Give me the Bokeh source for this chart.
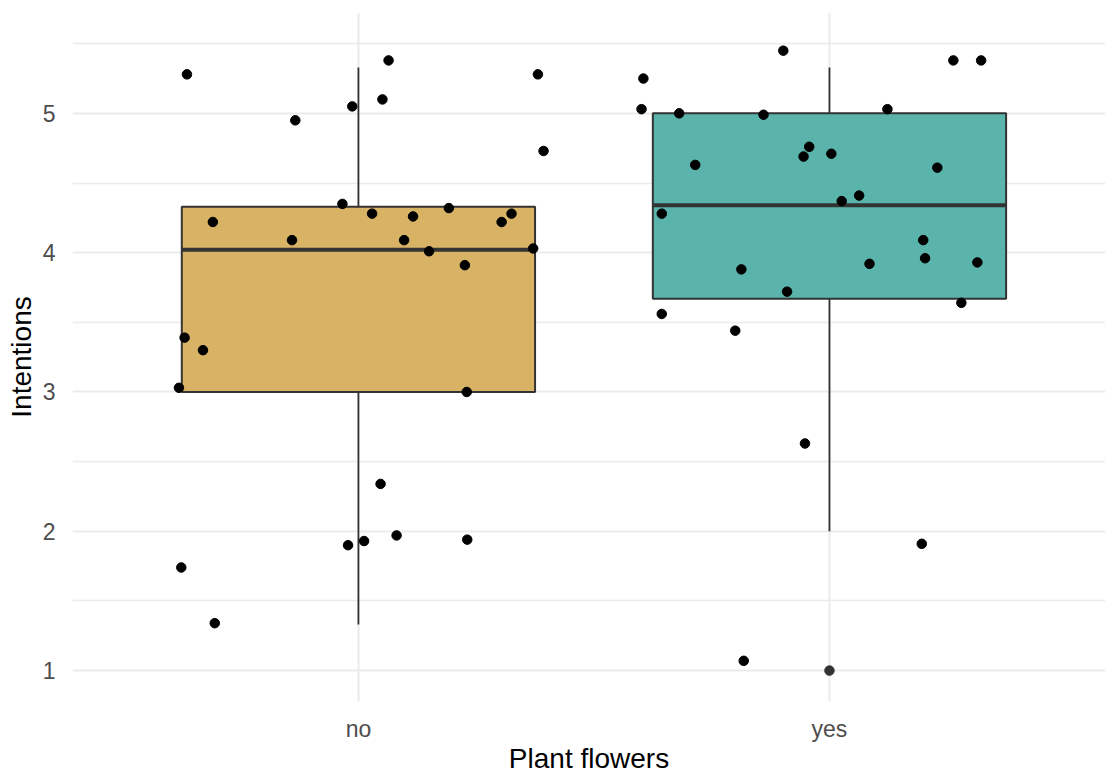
from bokeh.plotting import figure
from bokeh.models import FixedTicker, Range1d, ColumnDataSource
from bokeh.embed import file_html
from bokeh.resources import INLINE

# ---------------- data ----------------
categories = ["no", "yes"]
box_colors = ["#D8B365", "#5AB4AC"]

# boxplot statistics
box_lower = [1.33, 2.0]
box_q1 = [3.0, 3.67]
box_median = [4.02, 4.34]
box_q3 = [4.33, 5.0]
box_upper = [5.33, 5.33]

outlier_cat = ["yes"]
outlier_values = [1.0]

# jittered observations: value and horizontal jitter (category units)
no_values = [5.28, 5.38, 5.28, 5.10, 5.05, 4.95, 4.73, 4.35, 4.28, 4.26,
             4.32, 4.22, 4.28, 4.22, 4.09, 4.09, 4.01, 4.03, 3.91, 3.39,
             3.30, 3.03, 3.00, 2.34, 1.90, 1.93, 1.97, 1.94, 1.74, 1.34]
no_jitter = [-0.364, 0.064, 0.381, 0.051, -0.013, -0.134, 0.393, -0.034, 0.029, 0.116,
             0.192, 0.304, 0.325, -0.309, -0.141, 0.097, 0.150, 0.371, 0.226, -0.369,
             -0.330, -0.381, 0.230, 0.047, -0.022, 0.012, 0.081, 0.231, -0.376, -0.305]

yes_values = [5.45, 5.25, 5.38, 5.38, 5.03, 5.00, 4.99, 5.03, 4.76, 4.69,
              4.71, 4.63, 4.61, 4.41, 4.37, 4.28, 4.09, 3.96, 3.93, 3.92,
              3.88, 3.72, 3.64, 3.56, 3.44, 2.63, 1.91, 1.07]
yes_jitter = [-0.098, -0.395, 0.263, 0.322, -0.399, -0.319, -0.140, 0.123, -0.043, -0.055,
              0.004, -0.285, 0.229, 0.063, 0.026, -0.356, 0.199, 0.203, 0.314, 0.085,
              -0.187, -0.090, 0.280, -0.356, -0.200, -0.052, 0.196, -0.182]

y_ticks = [1, 2, 3, 4, 5]
y_minor = [1.5, 2.5, 3.5, 4.5, 5.5]
x_title = "Plant flowers"
y_title = "Intentions"

# ---------------- figure ----------------
FONT = "Liberation Sans"
p = figure(width=1105, height=776, output_backend="svg", toolbar_location=None,
           x_range=Range1d(0.393, 2.586), y_range=Range1d(0.778, 5.724),
           min_border_left=72, min_border_right=0, min_border_top=12, min_border_bottom=74)
p.outline_line_color = None
p.background_fill_color = "white"
p.border_fill_color = "white"

cat_pos = {c: i + 1 for i, c in enumerate(categories)}
xs = [cat_pos[c] for c in categories]

# axes
xt = FixedTicker(ticks=xs)
p.xaxis.ticker = xt
p.xgrid.ticker = xt
p.xaxis.major_label_overrides = {cat_pos[c]: c for c in categories}
yt = FixedTicker(ticks=y_ticks, minor_ticks=y_minor)
p.yaxis.ticker = yt
p.ygrid.ticker = yt

for ax in (p.xaxis, p.yaxis):
    ax.axis_line_color = None
    ax.major_tick_line_color = None
    ax.minor_tick_line_color = None
    ax.major_tick_out = 0
    ax.major_tick_in = 0
    ax.minor_tick_out = 0
    ax.minor_tick_in = 0
    ax.major_label_text_font = FONT
    ax.major_label_text_font_size = "23px"
    ax.major_label_text_color = "#4D4D4D"
    ax.axis_label_text_font = FONT
    ax.axis_label_text_font_size = "28px"
    ax.axis_label_text_font_style = "normal"
    ax.axis_label_text_color = "black"

p.xaxis.axis_label = x_title
p.yaxis.axis_label = y_title
p.xaxis.major_label_standoff = 14
p.xaxis.axis_label_standoff = -2
p.yaxis.major_label_standoff = 17
p.yaxis.axis_label_standoff = 3

p.xgrid.grid_line_color = "#EBEBEB"
p.xgrid.grid_line_width = 2
p.ygrid.grid_line_color = "#EBEBEB"
p.ygrid.grid_line_width = 2
p.ygrid.minor_grid_line_color = "#EBEBEB"
p.ygrid.minor_grid_line_width = 1.6

# boxplots
box_src = ColumnDataSource(dict(x=xs, lower=box_lower, q1=box_q1, med=box_median,
                                q3=box_q3, upper=box_upper, color=box_colors,
                                left=[x - 0.375 for x in xs], right=[x + 0.375 for x in xs]))
p.segment(x0="x", y0="lower", x1="x", y1="q1", source=box_src, line_color="#333333", line_width=1.8)
p.segment(x0="x", y0="q3", x1="x", y1="upper", source=box_src, line_color="#333333", line_width=1.8)
p.vbar(x="x", width=0.75, bottom="q1", top="q3", source=box_src,
       fill_color="color", line_color="#333333", line_width=2)
p.segment(x0="left", y0="med", x1="right", y1="med", source=box_src,
          line_color="#333333", line_width=4)

# outliers
p.scatter(x=[cat_pos[c] for c in outlier_cat], y=outlier_values, size=9.5,
          fill_color="#333333", line_color="#333333")

# jittered points
px = [cat_pos["no"] + j for j in no_jitter] + [cat_pos["yes"] + j for j in yes_jitter]
py = no_values + yes_values
p.scatter(x=px, y=py, size=9.5, fill_color="black", line_color="black")

open("out.html", "w").write(file_html(p, INLINE))
